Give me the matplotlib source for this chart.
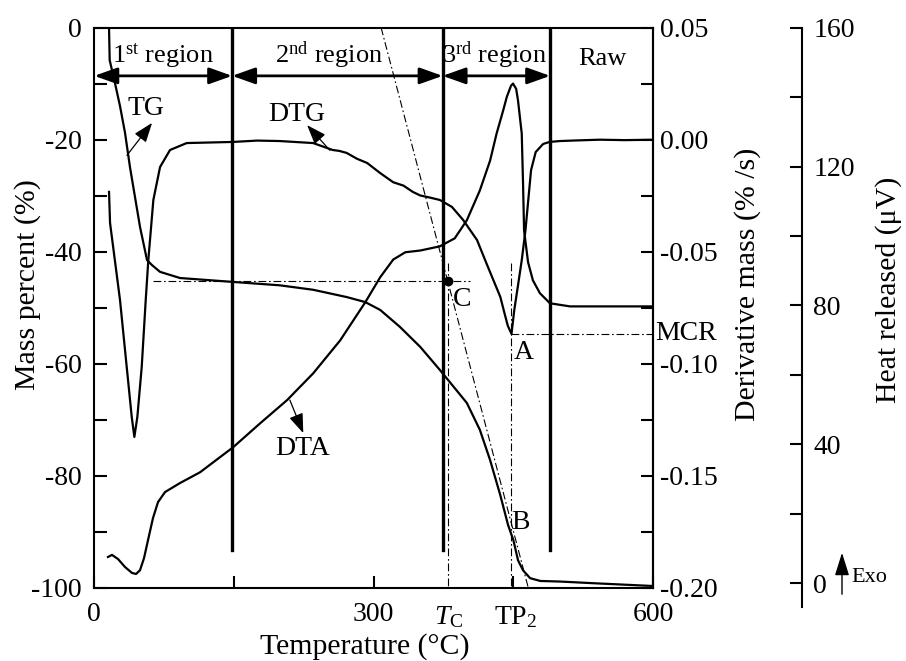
import matplotlib
matplotlib.use("Agg")
import matplotlib.pyplot as plt
from matplotlib.ticker import MultipleLocator, FormatStrFormatter

plt.rcParams['font.family'] = ['Liberation Serif', 'DejaVu Serif']
plt.rcParams['mathtext.fontset'] = 'custom'
plt.rcParams['mathtext.rm'] = 'Liberation Serif'
plt.rcParams['mathtext.it'] = 'Liberation Serif:italic'
plt.rcParams['axes.unicode_minus'] = False

# ---- measured curves ----
# TG: mass percent (%) vs temperature (°C)
tg_T = [15.8, 16.5, 22.2, 27.6, 33.0, 38.3, 49.1, 56.6, 62.0, 70.6, 92.0, 149, 199, 235,
        271, 291, 307, 328, 350, 371, 400, 414, 425, 436, 444.3, 450, 455, 460.4, 468,
        479, 500, 536, 600]
tg_mass = [0.0, -5.8, -9.9, -14.0, -18.8, -24.9, -35.6, -41.5, -42.4, -43.6, -44.7, -45.4,
           -46.0, -46.8, -48.1, -49.0, -50.4, -53.4, -57.0, -61.1, -67.0, -71.8, -77.2,
           -83.5, -88.8, -91.5, -95.1, -96.9, -98.3, -98.8, -98.9, -99.2, -99.7]

# DTG: derivative mass (%/s)
dtg_T = [15.8, 16.9, 27.6, 34.8, 40.2, 43.0, 46.2, 50.9, 55.2, 58.0, 63.4, 70.6, 81.3, 99.2,
         149, 175, 199, 235, 256, 263, 271, 282, 293, 307, 321, 332, 342, 350, 360, 371,
         384, 396, 411, 421, 436, 441, 444, 448, 451, 455, 459, 463, 466, 469, 474, 482,
         489, 500, 520, 543, 570, 600]
dtg_val = [-0.0233, -0.0372, -0.0716, -0.1015, -0.1238, -0.1327, -0.1238, -0.1015, -0.0716,
           -0.0537, -0.0269, -0.0122, -0.0046, -0.0015, -0.0010, -0.0004, -0.0006, -0.0015,
           -0.0046, -0.0050, -0.0059, -0.0085, -0.0104, -0.0149, -0.0190, -0.0205, -0.0233,
           -0.0249, -0.0258, -0.0269, -0.0300, -0.0358, -0.0448, -0.0551, -0.0702, -0.0783,
           -0.0830, -0.0867, -0.0760, -0.0650, -0.0538, -0.0404, -0.0270, -0.0136, -0.0055,
           -0.0019, -0.0010, -0.0006, -0.0003, 0.0, -0.0002, 0.0]

# DTA: heat released (µV)
dta_T = [14.7, 19.0, 25.5, 33.0, 40.5, 44.8, 49.1, 53.4, 57.7, 63.0, 68.4, 75.9, 92.0, 113.5,
         149, 178, 207, 235, 264, 291, 307, 321, 334, 350, 371, 387, 400, 414, 425, 432,
         439, 443, 447.5, 449.6, 453, 455, 459, 460.4, 461.5, 465.8, 471, 478.5, 489.3,
         510.8, 600]
dta_val = [7.5, 8.1, 6.9, 4.6, 2.9, 2.6, 3.7, 7.2, 12.4, 18.7, 23.3, 26.2, 28.8, 31.9,
           39.1, 46.0, 52.7, 60.4, 69.9, 80.9, 88.1, 93.2, 95.3, 95.8, 97.0, 99.3, 104.5,
           113.1, 121.7, 129.5, 136.1, 140.1, 143.3, 143.9, 142.4, 139.0, 129.5, 115.1,
           101.6, 92.4, 87.2, 83.5, 80.6, 79.7, 79.7]

# characteristic temperatures (°C) and values
region_bounds = [0, 148, 374, 489.5]
region_names = ['1$^{\\mathrm{st}}$ region', '2$^{\\mathrm{nd}}$ region',
                '3$^{\\mathrm{rd}}$ region', 'Raw']
T_c = 380
TP_2 = 448
mass_C = -45.2
mcr_val = -0.0867
tangent_T = [308, 466]
tangent_mass = [0, -100]

lw_curve = 1.6
fs = 20
fs_title = 21.5

fig = plt.figure(figsize=(9.06, 6.61), dpi=100)
ax = fig.add_axes([0.1041, 0.1109, 0.6167, 0.8472])
ax2 = ax.twinx()
ax3 = ax.twinx()

# ---- main axes: TG ----
ax.plot(tg_T, tg_mass, color='black', lw=lw_curve, zorder=4)
ax.set_xlim(0, 600)
ax.set_ylim(-100, 0)
ax.xaxis.set_major_locator(MultipleLocator(300))
ax.xaxis.set_minor_locator(MultipleLocator(150))
ax.yaxis.set_major_locator(MultipleLocator(20))
ax.yaxis.set_minor_locator(MultipleLocator(10))
ax.yaxis.set_major_formatter(FormatStrFormatter('%d'))
ax.tick_params(axis='both', which='both', direction='in', length=9, width=1.5,
               labelsize=fs, top=False, right=False)
ax.tick_params(axis='y', pad=9)
ax.tick_params(axis='x', pad=10)
for s in ax.spines.values():
    s.set_linewidth(1.5)

# region dividers and arrows
div_bottom = -93.3
for xb in region_bounds[1:]:
    ax.plot([xb, xb], [0, div_bottom], color='black', lw=2.4, zorder=5)
arrow_y = -8.6
edges = region_bounds + [600]
for i in range(3):
    ax.annotate('', xy=(edges[i], arrow_y), xytext=(edges[i + 1], arrow_y),
                arrowprops=dict(arrowstyle='<|-|>,head_length=0.7,head_width=0.25',
                                lw=2.0, color='black', shrinkA=0, shrinkB=0,
                                mutation_scale=20))
label_x = [74, 252, 430, 546]
label_y = [-6.3, -6.3, -6.3, -6.7]
for name, lx, ly in zip(region_names, label_x, label_y):
    ax.text(lx, ly, name, ha='center', va='baseline', fontsize=19)

# Tc construction
dash = (0, (7, 2.5, 1.5, 2.5))
ax.plot(tangent_T, tangent_mass, color='black', lw=0.8, ls=dash, zorder=3)
ax.plot([63, 403.5], [mass_C, mass_C], color='black', lw=0.8, ls=dash, zorder=3)
ax.plot([T_c, T_c], [-42, -100], color='black', lw=0.8, ls=dash, zorder=3)
ax.plot([TP_2, TP_2], [-42, -100], color='black', lw=0.8, ls=dash, zorder=3)
ax.plot([T_c], [mass_C], 'o', color='black', ms=6, zorder=6)
ax.text(395, -49.7, 'C', ha='center', va='baseline', fontsize=fs)
ax.text(461.5, -59.2, 'A', ha='center', va='baseline', fontsize=fs)
ax.text(458, -89.5, 'B', ha='center', va='baseline', fontsize=fs)

# curve labels
arrow_thin = dict(arrowstyle='-|>,head_length=0.6,head_width=0.22', lw=0.9,
                  color='black', shrinkA=0, shrinkB=0, mutation_scale=20)
ax.annotate('', xy=(62, -17.0), xytext=(35, -22.8), arrowprops=arrow_thin)
ax.text(55.5, -15.6, 'TG', ha='center', va='baseline', fontsize=fs)
ax.annotate('', xy=(228.5, -17.4), xytext=(253, -21.9), arrowprops=arrow_thin)
ax.text(217.3, -16.7, 'DTG', ha='center', va='baseline', fontsize=fs)
ax.annotate('', xy=(224.4, -72.4), xytext=(210, -66.5), arrowprops=arrow_thin)
ax.text(223.6, -76.3, 'DTA', ha='center', va='baseline', fontsize=fs)

# extra temperature labels below the axis
xt = ax.get_xaxis_transform()
ax.text(T_c, -0.03, '$T_{\\mathrm{C}}$', transform=xt, ha='center', va='top', fontsize=fs)
ax.text(TP_2 + 4, -0.03, 'TP$_2$', transform=xt, ha='center', va='top', fontsize=fs)

# ---- DTG axis ----
ax2.plot(dtg_T, dtg_val, color='black', lw=lw_curve, zorder=4)
ax2.set_ylim(-0.20, 0.05)
ax2.yaxis.set_major_locator(MultipleLocator(0.05))
ax2.yaxis.set_minor_locator(MultipleLocator(0.025))
ax2.yaxis.set_major_formatter(FormatStrFormatter('%.2f'))
ax2.tick_params(axis='y', which='both', direction='in', length=9, width=1.5,
                labelsize=fs, pad=5)
ax2.plot([TP_2, 600], [mcr_val, mcr_val], color='black', lw=0.8, ls=dash, zorder=3)
ax2.text(602, mcr_val, 'MCR', ha='left', va='center', fontsize=fs, clip_on=False)
for k in ['top', 'bottom', 'left']:
    ax2.spines[k].set_visible(False)
ax2.spines['right'].set_linewidth(1.5)

# ---- DTA axis ----
ax3.plot(dta_T, dta_val, color='black', lw=lw_curve, zorder=4)
ax3.set_ylim(-1.35, 160)
ax3.spines['right'].set_position(('axes', 1.2667))
ax3.spines['right'].set_bounds(-7, 160)
ax3.spines['right'].set_linewidth(1.5)
for k in ['top', 'bottom', 'left']:
    ax3.spines[k].set_visible(False)
ax3.yaxis.set_major_locator(MultipleLocator(40))
ax3.yaxis.set_minor_locator(MultipleLocator(20))
ax3.tick_params(axis='y', which='both', direction='in', length=9, width=1.5,
                labelsize=fs, pad=8)

# axis titles
fig.text(365 / 906, 1 - 647 / 661, 'Temperature (°C)', ha='center', va='center',
         fontsize=fs_title)
fig.text(28 / 906, 1 - 285 / 661, 'Mass percent (%)', ha='center', va='center',
         rotation=90, fontsize=fs_title)
fig.text(748 / 906, 1 - 284 / 661, 'Derivative mass (% /s)', ha='center', va='center',
         rotation=90, fontsize=fs_title)
fig.text(889 / 906, 1 - 290 / 661, 'Heat released (μV)', ha='center', va='center',
         rotation=90, fontsize=fs_title)

# exothermic direction marker
fig.patches.append(matplotlib.patches.FancyArrowPatch(
    (842 / 906, 1 - 597 / 661), (842 / 906, 1 - 550 / 661), transform=fig.transFigure,
    arrowstyle='-|>,head_length=0.7,head_width=0.22', mutation_scale=20, lw=1.0,
    color='black'))
fig.text(851 / 906, 1 - 577 / 661, 'Exo', ha='left', va='center', fontsize=16)

fig.savefig('out.png', dpi=100)
